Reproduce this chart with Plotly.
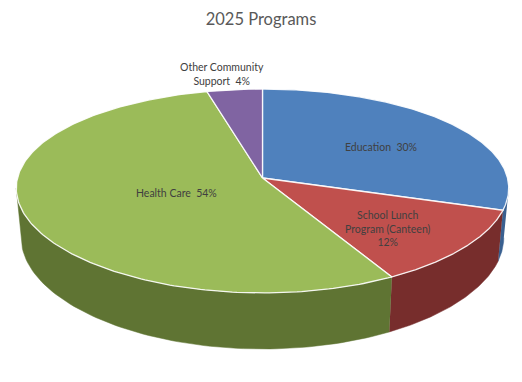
import numpy as np
import plotly.graph_objects as go

# ---- data ----
categories = ["Education", "School Lunch Program (Canteen)", "Health Care", "Other Community Support"]
values = [30, 12, 54, 4]
label_lines = ["Education  30%", "School Lunch<br>Program (Canteen)<br>12%", "Health Care  54%", "Other Community<br>Support  4%"]
title_text = "2025 Programs"

# ---- style ----
top_colors = ["#4F81BD", "#C0504D", "#9BBB59", "#8064A2"]
side_colors = ["#3A6090", "#772D2C", "#5F7433", "#5E4A7A"]
label_r = [0.62, 0.62, 0.38, 1.22]
label_dx = [0, 4, 2, -7]
label_dy = [4, 9, 1, 1]
PAGE_W, PAGE_H = 522, 382
OFF = 8  # default page body margin
W, H = PAGE_W - OFF, PAGE_H - OFF
CX, CY = 262.5, 178.0
RX, RY = 245.0, 100.3
KX, KY = 0.10, 0.1274
DEPTH = 48.9
SHRINK = 0.98
FONT = "Lato, 'Open Sans', sans-serif"


def proj(theta, r=1.0):
    u = r * np.sin(theta)
    v = r * np.cos(theta)
    dy = 1 + KY * v
    return CX + RX * u / (1 + KX * v), CY - RY * v / dy, dy


total = float(sum(values))
fracs = [v / total for v in values]
starts = np.cumsum([0] + fracs[:-1]) * 2 * np.pi
ends = starts + np.array(fracs) * 2 * np.pi

fig = go.Figure()

# side walls (visible front part)
sil_a = np.arccos(-KX)
sil_b = 2 * np.pi - sil_a
for i, name in enumerate(categories):
    a0, a1 = max(starts[i], sil_a), min(ends[i], sil_b)
    if a1 <= a0:
        continue
    th = np.linspace(a0, a1, 80)
    xt, yt, den = proj(th)
    xb = CX + (xt - CX) * SHRINK
    yb = yt + DEPTH / den
    xs = np.concatenate([xt, xb[::-1]])
    ys = np.concatenate([yt, yb[::-1]])
    fig.add_trace(go.Scatter(x=xs, y=ys, mode="lines", fill="toself",
                             fillcolor=side_colors[i],
                             line=dict(color=side_colors[i], width=0.5),
                             hoverinfo="skip", showlegend=False))

# top faces
for i, name in enumerate(categories):
    th = np.linspace(starts[i], ends[i], 200)
    xt, yt, _ = proj(th)
    xs = np.concatenate([[CX], xt, [CX]])
    ys = np.concatenate([[CY], yt, [CY]])
    fig.add_trace(go.Scatter(x=xs, y=ys, mode="lines", fill="toself",
                             fillcolor=top_colors[i],
                             line=dict(color="rgba(255,255,255,0.9)", width=1.3),
                             name=name, hoverinfo="name", showlegend=False))

# labels
for i, txt in enumerate(label_lines):
    mid = (starts[i] + ends[i]) / 2
    lx, ly, _ = proj(mid, label_r[i])
    fig.add_annotation(x=lx + label_dx[i], y=ly + label_dy[i], text=txt, showarrow=False,
                       font=dict(family=FONT, size=10.5, color="#404040"),
                       align="center", xanchor="center", yanchor="middle")

fig.update_layout(
    width=W, height=H,
    margin=dict(l=0, r=0, t=0, b=0),
    paper_bgcolor="white", plot_bgcolor="white",
    title=dict(text=title_text, x=0.5 - (OFF / 2) / W, xanchor="center", y=1 - (19 - OFF) / H,
               yref="container", yanchor="middle",
               font=dict(family=FONT, size=16.5, color="#595959")),
    xaxis=dict(range=[OFF, PAGE_W], visible=False, fixedrange=True),
    yaxis=dict(range=[PAGE_H, OFF], visible=False, fixedrange=True),
    showlegend=False,
)

fig.write_html("out.html")
